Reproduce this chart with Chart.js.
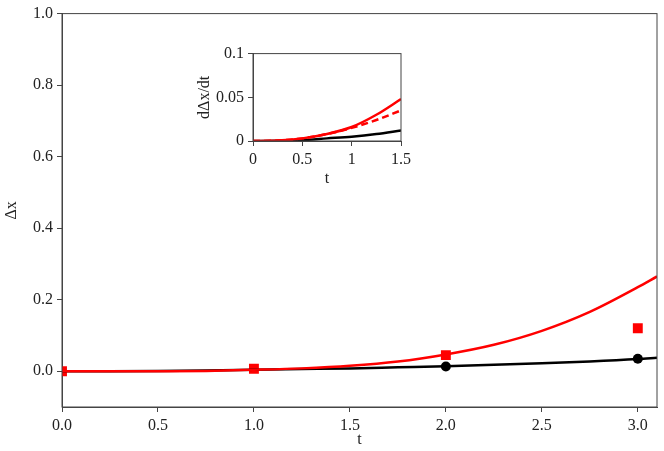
<!DOCTYPE html>
<html lang="en">
<head>
<meta charset="UTF-8">
<title>Delta x vs t</title>
<script src="https://cdn.jsdelivr.net/npm/chart.js"></script>
<style>
  body { margin: 0; background: #fff; }
  #wrap { position: relative; width: 664px; height: 451px; }
  #inset { position: absolute; left: 193px; top: 40px; }
</style>
</head>
<body>
<div id="wrap">
  <canvas id="mainChart" width="664" height="451"></canvas>
  <canvas id="inset" width="222" height="150"></canvas>
</div>
<script>
// main plot data
const tGrid = [0, 0.25, 0.5, 0.75, 1, 1.25, 1.5, 1.75, 2, 2.25, 2.5, 2.75, 3, 3.1];
const redCurve = [0, 0, 0.0002, 0.001, 0.004, 0.008, 0.015, 0.027, 0.047, 0.074, 0.113, 0.166, 0.235, 0.265];
const blackCurve = [0, 0.0002, 0.0008, 0.002, 0.004, 0.006, 0.008, 0.011, 0.014, 0.018, 0.022, 0.027, 0.034, 0.038];
const squareT = [0, 1, 2, 3];
const squareY = [0, 0.007, 0.045, 0.12];
const circleT = [2, 3];
const circleY = [0.013, 0.035];
const mainXTicks = [0, 0.5, 1, 1.5, 2, 2.5, 3];
const mainYTicks = [0, 0.2, 0.4, 0.6, 0.8, 1.0];

// inset data
const tInset = [0, 0.25, 0.5, 0.75, 1, 1.25, 1.5];
const redInset = [0, 0.0005, 0.003, 0.008, 0.016, 0.03, 0.048];
const redDashInset = [0, 0.0005, 0.003, 0.008, 0.015, 0.024, 0.035];
const blackInset = [0, 0.0003, 0.001, 0.003, 0.005, 0.008, 0.012];
const insetXTicks = [0, 0.5, 1, 1.5];
const insetYTicks = [0, 0.05, 0.1];

const pts = (xs, ys) => xs.map((x, i) => ({ x: x, y: ys[i] }));
const font = { family: 'Liberation Serif', size: 16 };

// full box around the plot area
const frame = {
    id: 'frame',
    afterDraw(chart) {
        const a = chart.chartArea, c = chart.ctx;
        c.save();
        c.strokeStyle = '#444';
        c.lineWidth = 1;
        c.strokeRect(a.left, a.top, a.right - a.left, a.bottom - a.top);
        c.restore();
    }
};

function lineSet(xs, ys, color, dash) {
    return { type: 'line', data: pts(xs, ys), borderColor: color, borderWidth: 2.5,
             borderDash: dash || [], pointRadius: 0, cubicInterpolationMode: 'monotone', fill: false };
}

function axis(min, max, ticks, title, fmt, fit) {
    return {
        type: 'linear', min: min, max: max,
        afterBuildTicks: s => { s.ticks = ticks.map(v => ({ value: v })); },
        afterFit: fit,
        ticks: { font: font, color: '#222', callback: fmt, maxRotation: 0, padding: 4 },
        grid: { drawOnChartArea: false, tickLength: 5, color: '#444' },
        border: { display: true, color: '#444', width: 1 },
        title: { display: true, text: title, font: font, color: '#222', padding: 2 }
    };
}

new Chart(document.getElementById('mainChart'), {
    type: 'scatter',
    data: {
        datasets: [
            lineSet(tGrid, redCurve, 'rgb(255,0,0)'),
            lineSet(tGrid, blackCurve, '#000'),
            { data: pts(squareT, squareY), backgroundColor: 'rgb(255,0,0)', borderWidth: 0,
              pointStyle: 'rect', pointRadius: 7 },
            { data: pts(circleT, circleY), backgroundColor: '#000', borderWidth: 0,
              pointStyle: 'circle', pointRadius: 5 }
        ]
    },
    options: {
        responsive: false, animation: false,
        layout: { padding: { top: 11, right: 2, left: 0 } },
        plugins: { legend: { display: false }, tooltip: { enabled: false } },
        scales: {
            x: axis(0, 3.1, mainXTicks, 't', v => v.toFixed(1), s => { s.height = 44; }),
            y: axis(-0.1, 1.0, mainYTicks, 'Δx', v => v.toFixed(1), s => { s.width = 62; })
        }
    },
    plugins: [frame]
});

new Chart(document.getElementById('inset'), {
    type: 'scatter',
    data: {
        datasets: [
            lineSet(tInset, redInset, 'rgb(255,0,0)'),
            lineSet(tInset, redDashInset, 'rgb(255,0,0)', [7, 4]),
            lineSet(tInset, blackInset, '#000')
        ]
    },
    options: {
        responsive: false, animation: false,
        layout: { padding: { top: 7, right: 13 } },
        plugins: { legend: { display: false }, tooltip: { enabled: false } },
        scales: {
            x: axis(0, 1.5, insetXTicks, 't', v => String(v), s => { s.height = 49; }),
            y: axis(0, 0.1, insetYTicks, 'dΔx/dt', v => String(v), s => { s.width = 60; })
        }
    },
    plugins: [frame]
});
</script>
</body>
</html>
